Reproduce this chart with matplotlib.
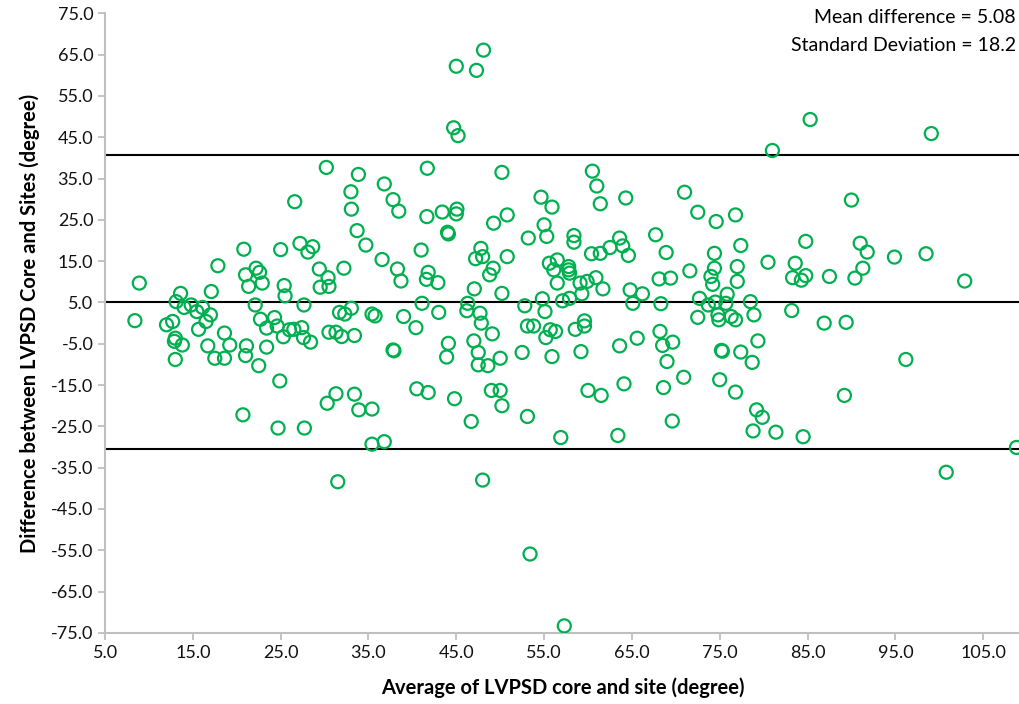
import matplotlib.pyplot as plt
import numpy as np

# Bland-Altman: average vs difference
avg = [30.2, 26.6, 48.1, 45.0, 47.3, 44.7, 45.2, 33.85, 36.8, 33.0, 37.8, 33.05, 38.45, 41.7, 41.65,
       43.4, 45.07, 45.0, 50.2, 50.8, 49.25, 54.65, 55.9, 55.0,
       81.0, 60.5, 61.0, 61.4, 64.3, 71.0, 72.5, 74.6, 76.8,
       85.3, 99.1, 90.0,
       8.9, 8.4, 20.8, 17.85, 25.0, 27.2, 28.65, 28.1, 29.4, 29.5, 21.0, 22.2, 22.6, 21.35, 22.9,
       25.4, 25.5, 17.1, 13.6, 13.1, 14.0, 14.8, 15.45, 16.1, 17.0, 16.5, 15.65, 12.0, 12.7, 13.0,
       12.9, 13.8, 13.0, 18.6, 19.2, 16.7, 17.5, 18.6, 22.1, 22.7, 23.4, 24.3, 24.6, 25.3, 26.0,
       26.5, 27.4, 27.65, 27.6, 28.4, 21.1, 21.0, 23.4, 22.5, 24.9, 20.7, 24.7, 27.7,
       30.4, 30.5, 33.7, 34.7, 36.55, 38.3, 38.7, 41.0, 41.8, 41.6, 42.9, 44.0, 44.1, 32.2, 47.2,
       47.8, 48.0, 49.2, 48.8, 50.8, 47.05, 50.2, 55.3, 53.2, 55.6, 56.1,
       41.1, 43.0, 39.0, 40.4, 31.7, 32.3, 33.05, 35.4, 35.75, 30.5, 31.3, 31.95, 33.4, 37.8, 37.9,
       44.1, 43.9, 46.3, 46.2, 47.7, 47.85, 49.1, 47.0, 47.5, 47.5, 48.6, 50.0, 52.5, 55.9, 52.8,
       53.1, 53.8, 54.8, 55.1, 55.2, 55.7, 56.3,
       31.3, 30.3, 33.4, 33.9, 35.4, 40.5, 41.8, 44.8, 46.7, 49.0, 50.0, 50.2, 53.1,
       58.4, 58.4, 60.4, 61.4, 62.5, 63.6, 63.95, 64.6, 67.7, 68.9, 56.5, 57.8, 57.8, 57.9, 56.5,
       59.1, 59.9, 60.9, 61.7, 59.3, 57.1, 57.9, 64.8, 66.2, 65.1, 68.3, 68.1, 69.4, 71.6, 74.4,
       77.4, 77.0, 74.4, 74.0, 74.2, 77.0, 80.5, 72.7, 73.7, 74.5, 75.85, 75.7, 78.5, 72.5, 74.8,
       74.9, 76.3, 76.8, 78.9, 58.55, 59.6, 59.6, 59.2, 63.6, 65.6, 68.2, 68.5, 69.65, 69.0, 70.9,
       75.2, 75.3, 77.4, 78.7, 79.35, 75.0, 76.8, 60.0, 61.5, 64.1, 68.6, 69.6, 79.2, 79.85,
       84.8, 91.0, 91.8, 83.6, 83.3, 84.8, 84.3, 87.5, 91.3, 90.4, 94.9, 98.5, 102.9, 83.2, 86.9,
       89.4, 96.2, 89.2,
       35.4, 36.8, 31.5, 48.0, 53.4, 57.3, 56.9, 63.4, 78.8, 81.4, 84.5, 100.8, 108.8]

diff = [37.7, 29.4, 66.1, 62.2, 61.2, 47.3, 45.4, 36.0, 33.7, 31.8, 29.9, 27.6, 27.1, 37.5, 25.8,
        26.9, 27.6, 26.45, 36.5, 26.2, 24.2, 30.5, 28.1, 23.8,
        41.8, 36.8, 33.2, 28.9, 30.3, 31.7, 26.85, 24.6, 26.2,
        49.3, 45.9, 29.8,
        9.7, 0.6, 17.9, 13.9, 17.8, 19.3, 18.5, 17.2, 13.1, 8.7, 11.7, 13.3, 12.3, 8.9, 9.7,
        9.1, 6.6, 7.65, 7.2, 5.2, 3.8, 4.4, 2.8, 3.8, 2.0, 0.4, -1.5, -0.4, 0.4, -3.65,
        -4.4, -5.3, -8.8, -2.4, -5.3, -5.5, -8.5, -8.5, 4.4, 0.95, -1.2, 1.35, -0.7, -3.3, -1.6,
        -1.5, -1.1, 4.4, -3.5, -4.6, -5.5, -7.85, -5.8, -10.3, -14.0, -22.2, -25.4, -25.4,
        11.0, 8.9, 22.4, 18.9, 15.4, 13.1, 10.2, 17.7, 12.3, 10.6, 9.8, 22.0, 21.6, 13.3, 15.6,
        18.1, 16.1, 13.3, 11.7, 16.1, 8.3, 7.2, 21.0, 20.6, 14.5, 12.9,
        4.8, 2.6, 1.6, -1.1, 2.6, 2.2, 3.6, 2.2, 1.75, -2.2, -2.2, -3.25, -3.0, -6.5, -6.7,
        -4.9, -8.2, 4.8, 3.0, 2.4, 0.0, -2.6, -4.3, -7.1, -10.1, -10.3, -8.5, -7.1, -8.1, 4.2,
        -0.7, -0.7, 5.9, 2.8, -3.5, -1.6, -2.0,
        -17.1, -19.4, -17.2, -21.0, -20.8, -15.9, -16.8, -18.3, -23.8, -16.3, -16.3, -20.0, -22.6,
        21.2, 19.6, 16.8, 16.9, 18.3, 20.6, 18.7, 16.4, 21.4, 17.1, 15.3, 13.7, 12.9, 12.1, 9.7,
        9.7, 10.1, 11.0, 8.3, 7.1, 5.4, 6.0, 8.05, 7.1, 4.8, 4.7, 10.7, 10.9, 12.65, 16.9,
        18.8, 13.7, 13.3, 11.3, 9.4, 10.1, 14.75, 6.0, 4.4, 5.1, 7.0, 4.8, 5.2, 1.4, 2.0,
        0.8, 1.6, 0.8, 2.0, -1.5, 0.55, -0.7, -6.9, -5.5, -3.65, -2.0, -5.4, -4.6, -9.3, -13.1,
        -6.6, -6.8, -7.0, -9.5, -4.3, -13.7, -16.7, -16.3, -17.5, -14.7, -15.6, -23.7, -21.0, -22.8,
        19.8, 19.35, 17.2, 14.5, 11.0, 11.5, 10.4, 11.3, 13.3, 10.9, 16.0, 16.8, 10.2, 3.05, 0.0,
        0.2, -8.8, -17.5,
        -29.3, -28.7, -38.4, -38.0, -55.9, -73.3, -27.7, -27.2, -26.1, -26.4, -27.5, -36.1, -30.1]

mean_diff = 5.08
sd_diff = 18.2
upper = mean_diff + 1.96 * sd_diff
lower = mean_diff - 1.96 * sd_diff

plt.rcParams['font.family'] = ['Lato', 'DejaVu Sans']

fig = plt.figure(figsize=(10.2, 7.04), dpi=100)
ax = fig.add_axes([0.103, 0.101, 0.897, 0.88])

ax.scatter(avg, diff, s=88, facecolors='none', edgecolors='#00B050', linewidths=1.6, zorder=3)

for yv in [upper, mean_diff, lower]:
    ax.axhline(yv, color='black', lw=1.5, zorder=2)

ax.set_xlim(5, 109.2)
ax.set_ylim(-75, 75)
ax.set_xticks(np.arange(5, 106, 10))
ax.set_yticks(np.arange(-75, 76, 10))
ax.xaxis.set_major_formatter(plt.FormatStrFormatter('%.1f'))
ax.yaxis.set_major_formatter(plt.FormatStrFormatter('%.1f'))

for s in ['top', 'right']:
    ax.spines[s].set_visible(False)
for s in ['left', 'bottom']:
    ax.spines[s].set_color('#BFBFBF')
    ax.spines[s].set_linewidth(1.5)
ax.tick_params(axis='both', colors='#BFBFBF', width=1.3, length=5, labelsize=13, labelcolor='#111111')

ax.set_xlabel('Average of LVPSD core and site (degree)', fontsize=14.5, fontweight='bold', labelpad=12)
ax.set_ylabel('Difference between LVPSD Core and Sites (degree)', fontsize=14.5, fontweight='bold', labelpad=8)

fig.text(0.996, 0.975, 'Mean difference = 5.08', ha='right', va='center', fontsize=14)
fig.text(0.996, 0.935, 'Standard Deviation = 18.2', ha='right', va='center', fontsize=14)

fig.savefig('out.png', dpi=100)
